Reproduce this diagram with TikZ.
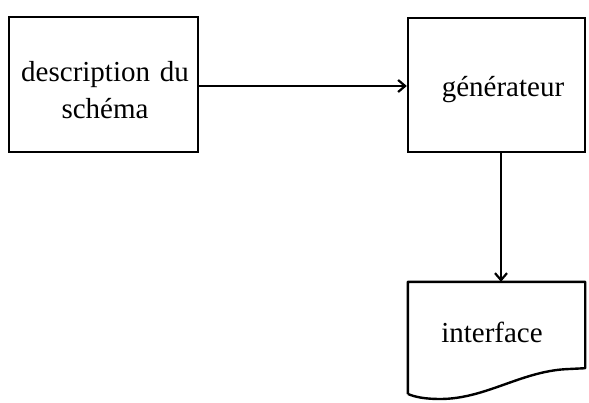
\documentclass[tikz,border=0pt]{standalone}
\usepackage{fontspec}
\setmainfont{Liberation Serif}
\usetikzlibrary{arrows.meta}
\begin{document}
\begin{tikzpicture}[x=1pt,y=-1pt,
  box/.style={draw, line width=2.4pt, minimum width=#1, inner sep=0pt},
  lbl/.style={font=\fontsize{29}{37}\selectfont, align=center, inner sep=0pt},
  conn/.style={line width=2.2pt, -{Straight Barb[length=7pt,width=12pt,line width=2.2pt]}}]
\useasboundingbox (0,0) rectangle (589,402);
\node[box=189pt, minimum height=135pt] (a) at (103.5,84.5) {};
\node[lbl, text width=189pt] (at) at (105,90) {description du\\schéma};
\node[box=177pt, minimum height=134pt] (b) at (496.5,85) {};
\node[lbl] (bt) at (503,90) {générateur};
\node[minimum width=177pt, minimum height=86pt, inner sep=0pt] (c) at (496.5,325) {};
\draw[line width=2.4pt, line join=round] (c.south west) ++(0,26) -- (c.north west) -- (c.north east) -- (c.south east)
  -- ++(-20,1) .. controls (520,372) and (485,399) .. (440,399)
  .. controls (425,399) and (415,397) .. (408,394);
\node[lbl] (ct) at (492,332) {interface};
\draw[conn] (a.east |- b.center) ++(0,1) -- ([yshift=-1pt]b.west);
\draw[conn] ([xshift=4.5pt]b.south) -- ([xshift=4.5pt]b.south |- c.north);
\end{tikzpicture}
\end{document}
